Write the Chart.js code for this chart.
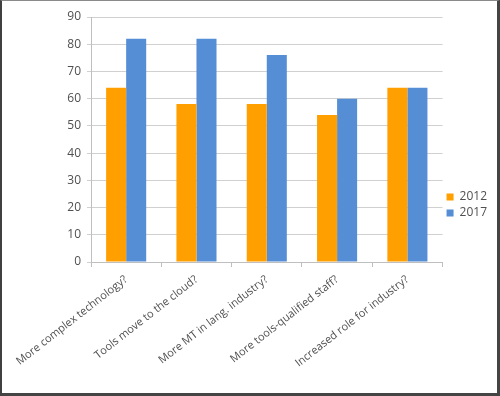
<!DOCTYPE html>
<html><head><meta charset="utf-8">
<script src="https://cdn.jsdelivr.net/npm/chart.js@4/dist/chart.umd.min.js"></script>
<style>
html,body{margin:0;padding:0;background:#fff;}
#wrap{position:absolute;left:0;top:0;width:495px;height:392px;border-left:2px solid #404040;border-top:1px solid #8a8a8a;border-right:3px solid #444;border-bottom:3px solid #444;background:#fff;}
canvas{display:block;}
</style></head>
<body>
<div id="wrap"><canvas id="c" width="495" height="392"></canvas></div>
<script>
const categories = ["More complex technology?", "Tools move to the cloud?", "More MT in lang. industry?", "More tools-qualified staff?", "Increased role for industry?"];
const series2012 = [64, 58, 58, 54, 64];
const series2017 = [82, 82, 76, 60, 64];
const seriesNames = ["2012", "2017"];
const yTicks = [0, 10, 20, 30, 40, 50, 60, 70, 80, 90];

const FONT = "'Open Sans', 'Liberation Sans', sans-serif";
const TEXT = '#505050';

new Chart(document.getElementById('c'), {
  type: 'bar',
  data: {
    labels: categories,
    datasets: [
      {label: seriesNames[0], data: series2012, backgroundColor: '#FF9F00', borderWidth: 0},
      {label: seriesNames[1], data: series2017, backgroundColor: '#558ED5', borderWidth: 0}
    ]
  },
  options: {
    responsive: false,
    animation: false,
    devicePixelRatio: 1,
    layout: {padding: {top: 16, right: 0, left: 0, bottom: 0}},
    datasets: {bar: {categoryPercentage: 0.57, barPercentage: 1.0}},
    plugins: {
      legend: {
        position: 'right',
        labels: {boxWidth: 7, boxHeight: 7, color: TEXT, font: {family: FONT, size: 12}, padding: 4}
      },
      tooltip: {enabled: false}
    },
    scales: {
      x: {
        grid: {offset: true, drawOnChartArea: false, color: '#bfbfbf', tickLength: 5},
        border: {color: '#bfbfbf'},
        ticks: {color: TEXT, font: {family: FONT, size: 11}, minRotation: 38, maxRotation: 38, padding: 6},
        afterFit: s => { s.height = 131; }
      },
      y: {
        min: 0, max: 90,
        afterBuildTicks: s => { s.ticks = yTicks.map(v => ({value: v})); },
        grid: {color: '#d0d0d0', tickLength: 4},
        border: {color: '#bfbfbf'},
        ticks: {color: TEXT, font: {family: FONT, size: 12}, padding: 6},
        afterFit: s => { s.width = 89; }
      }
    }
  }
});
</script>
</body></html>
